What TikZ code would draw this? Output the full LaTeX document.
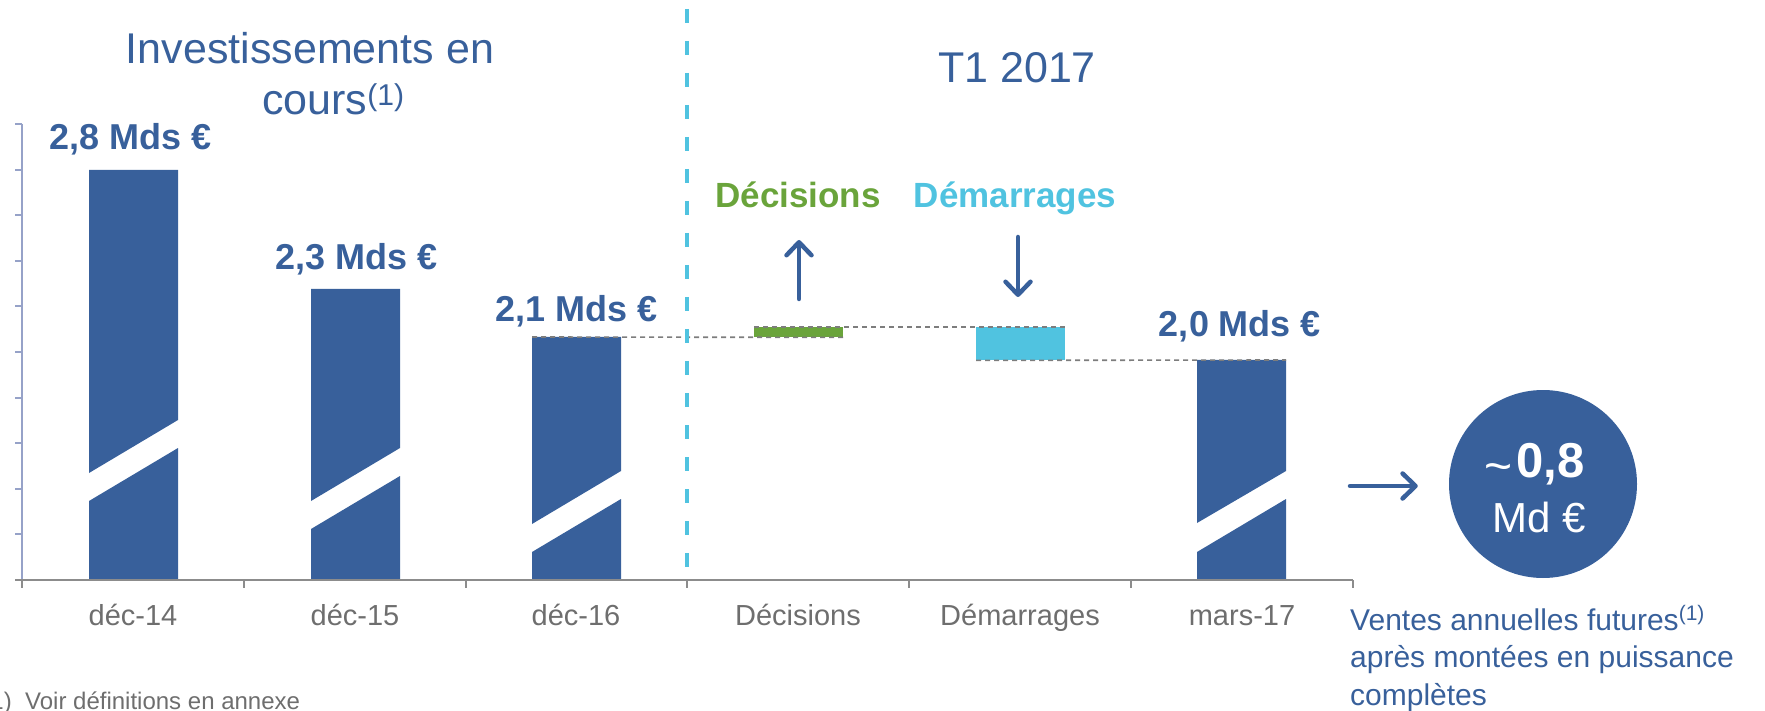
\documentclass[tikz,border=0pt]{standalone}
\usepackage{fontspec}
\setmainfont{Liberation Sans}
\usetikzlibrary{arrows.meta}
\definecolor{dblue}{RGB}{56,96,155}
\definecolor{dgreen}{RGB}{106,164,59}
\definecolor{lcyan}{RGB}{80,195,224}
\definecolor{txtgray}{RGB}{110,110,110}
\definecolor{axgray}{RGB}{140,140,140}
\definecolor{ycol}{RGB}{150,162,200}
\definecolor{dashgray}{RGB}{125,125,125}
\begin{document}
\begin{tikzpicture}[x=1pt,y=-1pt,
  txt/.style={inner sep=0pt, anchor=base},
  barlbl/.style={txt, text=dblue, font=\bfseries\fontsize{36}{43}\selectfont},
  catlbl/.style={txt, text=txtgray, font=\fontsize{29}{35}\selectfont},
  titlelbl/.style={txt, text=dblue, font=\fontsize{43}{52}\selectfont},
  ventlbl/.style={inner sep=0pt, anchor=base west, text=dblue, font=\fontsize{30}{37}\selectfont},
  barfill/.style={fill=dblue},
  gline/.style={draw=dashgray, line width=1.6pt, dash pattern=on 5pt off 4pt},
  bigarrow/.style={draw=dblue, line width=4.5pt, line cap=round, -{Straight Barb[length=13pt,width=25pt,round]}}
]
\useasboundingbox (0,0) rectangle (1765,711);

% bars with break bands
% bar 1
\fill[barfill] (89,170) -- (178,170) -- (178,420) -- (89,473) -- cycle;
\fill[barfill] (89,501) -- (178,448) -- (178,580) -- (89,580) -- cycle;
% bar 2
\fill[barfill] (311,289) -- (400,289) -- (400,448) -- (311,501) -- cycle;
\fill[barfill] (311,529) -- (400,476) -- (400,580) -- (311,580) -- cycle;
% bar 3
\fill[barfill] (532,337) -- (621,337) -- (621,471) -- (532,524) -- cycle;
\fill[barfill] (532,552) -- (621,499) -- (621,580) -- (532,580) -- cycle;
% bar 4
\fill[barfill] (1197,360) -- (1286,360) -- (1286,471) -- (1197,523) -- cycle;
\fill[barfill] (1197,552) -- (1286,499) -- (1286,580) -- (1197,580) -- cycle;

% waterfall pieces
\node[fill=dgreen, inner sep=0pt, minimum width=89pt, minimum height=10pt, anchor=north west] (gbar) at (754,327) {};
\node[fill=lcyan, inner sep=0pt, minimum width=89pt, minimum height=33pt, anchor=north west] (cbar) at (976,327) {};
\coordinate (b3tl) at (532,337);
\coordinate (b4tr) at (1286,360);
\draw[gline] (b3tl) -- (gbar.south east);
\draw[gline] (gbar.north west) -- (cbar.north east);
\draw[gline] (cbar.south west) -- (b4tr);

% axes
\draw[ycol, line width=2pt] (22,124) -- (22,580);
\foreach \k in {0,...,10} {
  \draw[ycol, line width=2pt] (15,124+45.6*\k) -- (22,124+45.6*\k);
}
\draw[axgray, line width=1.8pt] (15,580) -- (1353,580);
\foreach \xx in {22,244,466,687,909,1131,1353} {
  \draw[axgray, line width=1.8pt] (\xx,580) -- (\xx,588);
}

% divider
\coordinate (dv1) at (687,9);
\coordinate (dv2) at (687,583);
\draw[lcyan, line width=3.5pt, dash pattern=on 14pt off 18pt] (dv1) -- (dv2);

% titles
\node[titlelbl] (title1) at (310,64) {Investissements en};
\node[titlelbl, anchor=base west] (title2) at (262,115) {cours\textsuperscript{(1)}};
\node[titlelbl] (title3) at (1017,83) {T1 2017};

% bar labels
\node[barlbl] (l1) at (131,150) {2,8 Mds €};
\node[barlbl] (l2) at (357,270) {2,3 Mds €};
\node[barlbl] (l3) at (577,322) {2,1 Mds €};
\node[barlbl] (l4) at (1240,337) {2,0 Mds €};

\node[barlbl, text=dgreen, font=\bfseries\fontsize{35}{42}\selectfont] (dec) at (798,208) {Décisions};
\node[barlbl, text=lcyan, font=\bfseries\fontsize{35}{42}\selectfont] (dem) at (1015,208) {Démarrages};

% arrows
\coordinate (ua1) at (799,299);
\coordinate (ua2) at (799,240);
\coordinate (da1) at (1018,237);
\coordinate (da2) at (1018,297);
\draw[bigarrow] (ua1) -- (ua2);
\draw[bigarrow] (da1) -- (da2);

% category labels
\node[catlbl] (c1) at (133,625) {déc-14};
\node[catlbl] (c2) at (355,625) {déc-15};
\node[catlbl] (c3) at (576,625) {déc-16};
\node[catlbl] (c4) at (798,625) {Décisions};
\node[catlbl] (c5) at (1020,625) {Démarrages};
\node[catlbl] (c6) at (1242,625) {mars-17};

% circle
\node[circle, fill=dblue, minimum size=188pt, inner sep=0pt] (circ) at (1543,484) {};
\node[txt, anchor=base east, text=white, font=\fontsize{48}{54}\selectfont] (tilde) at (1513,482) {\textasciitilde};
\node[txt, anchor=base west, text=white, font=\bfseries\fontsize{49}{58}\selectfont] (val) at (1516,477) {0,8};
\node[txt, text=white, font=\fontsize{42}{50}\selectfont] (unit) at (1539,532) {Md €};
\coordinate (ra) at (1350,486);
\draw[bigarrow, shorten >=31pt] (ra) -- (ra -| circ.west);

% caption
\node[ventlbl] (v1) at (1350,630) {Ventes annuelles futures\textsuperscript{(1)}};
\node[ventlbl] (v2) at (1350,667) {après montées en puissance};
\node[ventlbl] (v3) at (1350,705) {complètes};

% footnote
\node[txt, anchor=base east, text=txtgray, font=\fontsize{24}{29}\selectfont] (fn1) at (12,709) {(1)};
\node[txt, anchor=base west, text=txtgray, font=\fontsize{24}{29}\selectfont] (fn2) at (25,709) {Voir définitions en annexe};
\end{tikzpicture}
\end{document}
